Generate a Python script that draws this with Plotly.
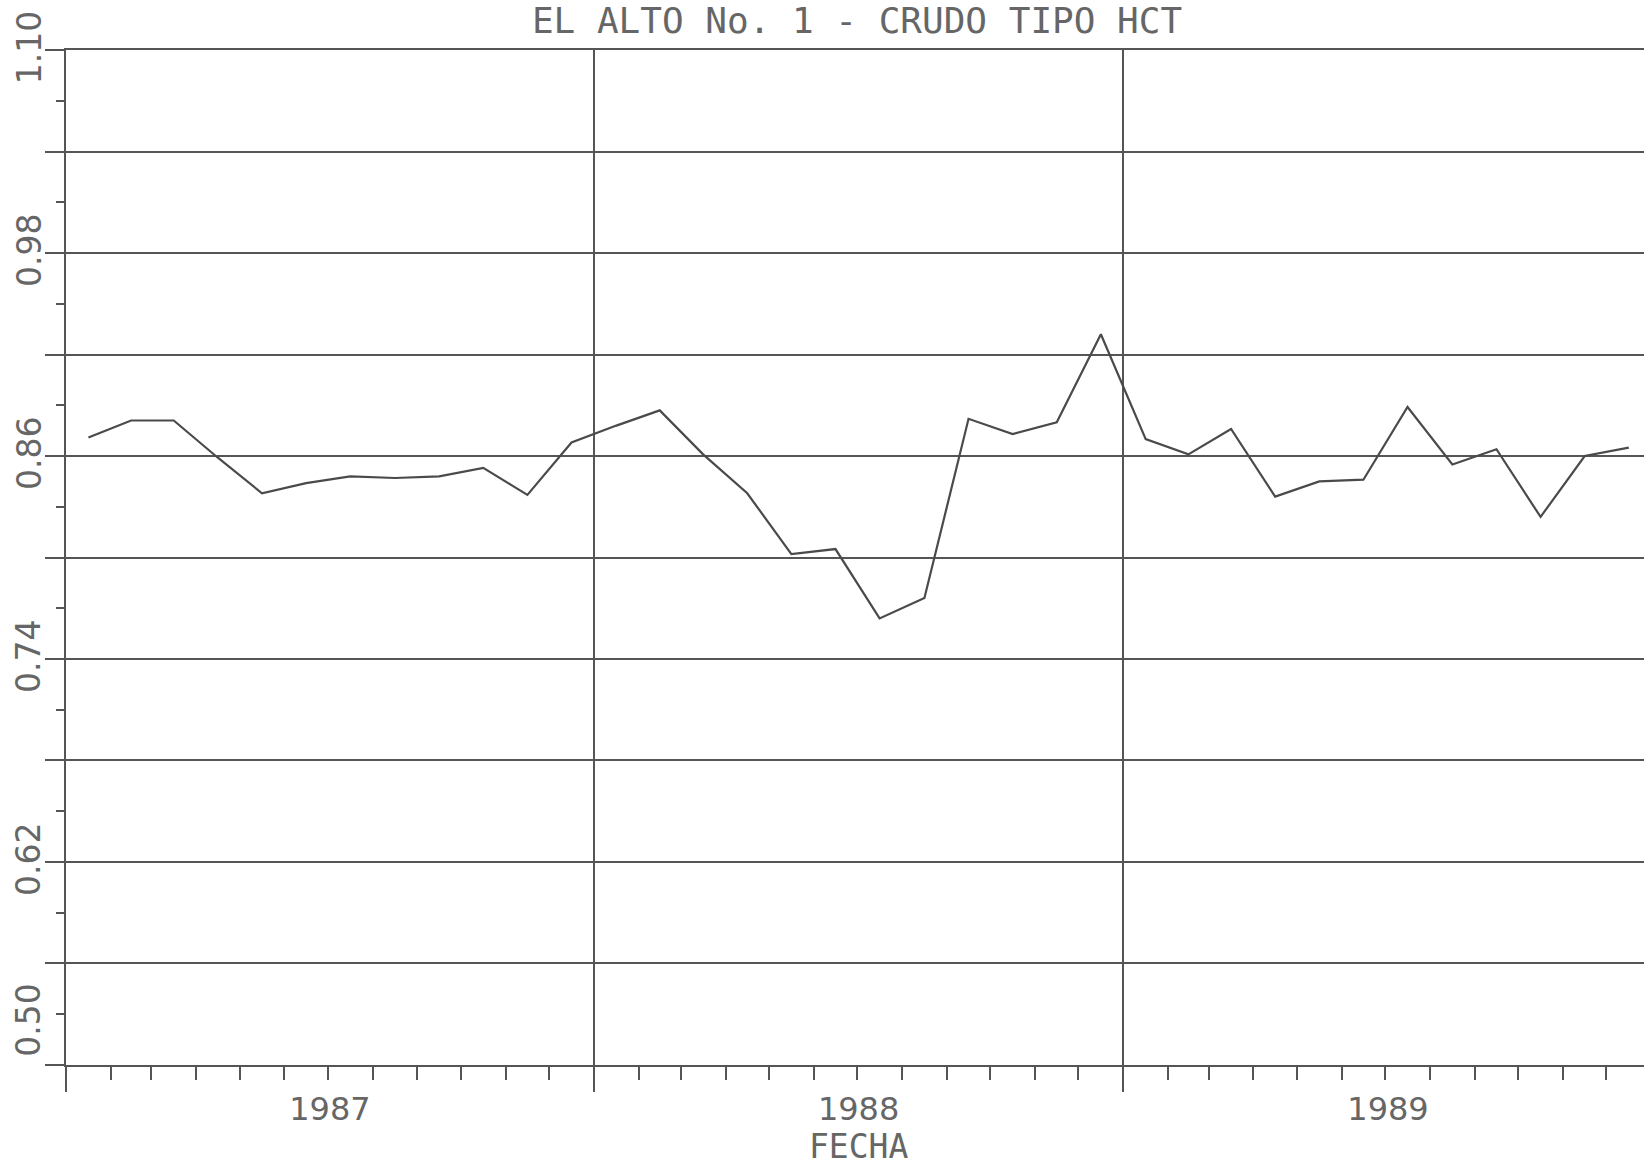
import plotly.graph_objects as go

# Monthly readings, EL ALTO No. 1 (crudo tipo HCT)
months_1987 = ["1987-01", "1987-02", "1987-03", "1987-04", "1987-05", "1987-06",
               "1987-07", "1987-08", "1987-09", "1987-10", "1987-11", "1987-12"]
values_1987 = [0.871, 0.881, 0.881, 0.859, 0.838, 0.844,
               0.848, 0.847, 0.848, 0.853, 0.837, 0.868]

months_1988 = ["1988-01", "1988-02", "1988-03", "1988-04", "1988-05", "1988-06",
               "1988-07", "1988-08", "1988-09", "1988-10", "1988-11", "1988-12"]
values_1988 = [0.878, 0.887, 0.861, 0.838, 0.802, 0.805,
               0.764, 0.776, 0.882, 0.873, 0.880, 0.932]

months_1989 = ["1989-01", "1989-02", "1989-03", "1989-04", "1989-05", "1989-06",
               "1989-07", "1989-08", "1989-09", "1989-10", "1989-11", "1989-12"]
values_1989 = [0.870, 0.861, 0.876, 0.836, 0.845, 0.846,
               0.889, 0.855, 0.864, 0.824, 0.860, 0.865]

y_tick_labels = ["1.10", "0.98", "0.86", "0.74", "0.62", "0.50"]

title_text = "EL ALTO No. 1 - CRUDO TIPO HCT"
x_title = "FECHA"

INK = "#555555"
TEXT = "#666666"
MONO = "DejaVu Sans Mono"
SANS = "DejaVu Sans"

fechas = months_1987 + months_1988 + months_1989
valores = values_1987 + values_1988 + values_1989

fig = go.Figure()
fig.add_trace(go.Scatter(
    x=fechas, y=valores,
    xperiod="M1", xperiodalignment="middle",
    mode="lines",
    line=dict(color="#4a4a4a", width=2.2),
    hoverinfo="skip",
))

annotations = []
for lab in y_tick_labels:
    v = float(lab)
    annotations.append(dict(
        text=lab, xref="paper", x=0, xshift=-37,
        yref="y", y=v, yshift=44 if lab == "0.50" else 2,
        textangle=-90, showarrow=False,
        xanchor="center", yanchor="middle",
        font=dict(family=SANS, size=33, color=TEXT),
    ))
annotations.append(dict(
    text=x_title, xref="paper", x=0.5023, yref="paper", y=0, yshift=-81.5,
    showarrow=False, xanchor="center", yanchor="middle",
    font=dict(family=MONO, size=33, color=TEXT),
))

fig.update_layout(
    width=1644, height=1165,
    margin=dict(l=66, r=0, t=50, b=100),
    paper_bgcolor="white", plot_bgcolor="white",
    showlegend=False,
    title=dict(text=title_text, xref="container", x=857 / 1644, xanchor="center",
               yref="container", y=1 - 20 / 1165, yanchor="middle",
               font=dict(family=MONO, size=36, color=TEXT)),
    annotations=annotations,
    xaxis=dict(
        type="date",
        range=["1987-01-01", "1989-12-27"],
        tick0="1987-01-01", dtick="M12",
        ticklabelmode="period", tickformat="%Y",
        ticks="outside", ticklen=25, tickwidth=2, tickcolor=INK,
        ticklabelstandoff=-10,
        showgrid=True, gridcolor=INK, gridwidth=2,
        showline=True, linecolor=INK, linewidth=2, mirror=True,
        zeroline=False,
        tickfont=dict(family=SANS, size=32, color=TEXT),
        minor=dict(dtick="M1", ticks="outside", ticklen=13, tickwidth=2,
                   tickcolor=INK, showgrid=False),
    ),
    yaxis=dict(
        range=[0.4999, 1.1001],
        tick0=0.5, dtick=0.06,
        ticks="outside", ticklen=19, tickwidth=2, tickcolor=INK,
        showticklabels=False,
        showgrid=True, gridcolor=INK, gridwidth=2,
        showline=True, linecolor=INK, linewidth=2,
        zeroline=False,
        minor=dict(tick0=0.5, dtick=0.03, ticks="outside", ticklen=8, tickwidth=2,
                   tickcolor=INK, showgrid=False),
    ),
)

fig.write_html("out.html")
